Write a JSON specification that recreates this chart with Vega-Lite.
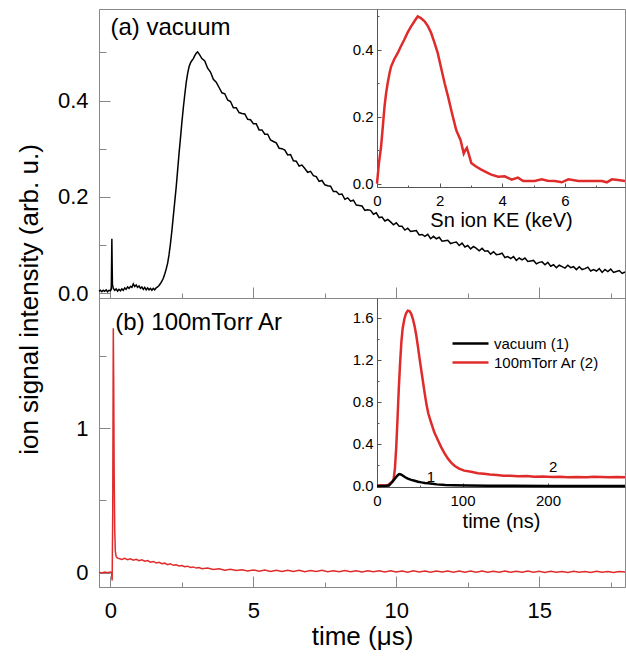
{
  "$schema": "https://vega.github.io/schema/vega-lite/v6.json",
  "padding": {"left": 15, "top": 8, "right": 2, "bottom": 2},
  "config": {
    "view": {"stroke": "#888", "strokeWidth": 1},
    "font": "Liberation Sans",
    "axis": {"grid": false, "domainColor": "#888", "tickColor": "#888", "labelColor": "#000", "titleColor": "#000", "labelFont": "Liberation Sans", "titleFont": "Liberation Sans", "titleFontWeight": "normal", "labelOverlap": false, "labelFlush": false}
  },
  "datasets": {
    "vac": [
      {"t":-0.4,"v":0.004},{"t":-0.35,"v":0.006},{"t":-0.3,"v":0.003},{"t":-0.25,"v":0.006},{"t":-0.2,"v":0.004},{"t":-0.15,"v":0.007},{"t":-0.1,"v":0.003},{"t":-0.05,"v":0.006},{"t":0.0,"v":0.005},{"t":0.03,"v":0.008},{"t":0.05,"v":0.113},{"t":0.06,"v":0.06},{"t":0.07,"v":0.018},{"t":0.1,"v":0.01},{"t":0.15,"v":0.006},{"t":0.2,"v":0.009},{"t":0.25,"v":0.004},{"t":0.3,"v":0.008},{"t":0.35,"v":0.005},{"t":0.4,"v":0.009},{"t":0.45,"v":0.006},{"t":0.5,"v":0.011},{"t":0.55,"v":0.008},{"t":0.6,"v":0.013},{"t":0.65,"v":0.01},{"t":0.7,"v":0.014},{"t":0.75,"v":0.012},{"t":0.8,"v":0.019},{"t":0.85,"v":0.014},{"t":0.9,"v":0.017},{"t":0.95,"v":0.012},{"t":1.0,"v":0.015},{"t":1.05,"v":0.01},{"t":1.1,"v":0.013},{"t":1.15,"v":0.008},{"t":1.2,"v":0.012},{"t":1.25,"v":0.007},{"t":1.3,"v":0.011},{"t":1.35,"v":0.007},{"t":1.4,"v":0.01},{"t":1.45,"v":0.006},{"t":1.5,"v":0.01},{"t":1.55,"v":0.007},{"t":1.6,"v":0.011},{"t":1.65,"v":0.013},{"t":1.7,"v":0.016},{"t":1.75,"v":0.02},{"t":1.8,"v":0.025},{"t":1.85,"v":0.031},{"t":1.9,"v":0.04},{"t":1.95,"v":0.05},{"t":2.0,"v":0.062},{"t":2.05,"v":0.08},{"t":2.1,"v":0.103},{"t":2.15,"v":0.13},{"t":2.2,"v":0.16},{"t":2.25,"v":0.19},{"t":2.3,"v":0.22},{"t":2.35,"v":0.255},{"t":2.4,"v":0.29},{"t":2.45,"v":0.322},{"t":2.5,"v":0.355},{"t":2.55,"v":0.385},{"t":2.6,"v":0.412},{"t":2.65,"v":0.437},{"t":2.7,"v":0.456},{"t":2.75,"v":0.47},{"t":2.8,"v":0.478},{"t":2.85,"v":0.483},{"t":2.9,"v":0.487},{"t":2.95,"v":0.493},{"t":3.0,"v":0.498},{"t":3.05,"v":0.501},
      {"t":3.1,"v":0.497},{"t":3.2,"v":0.487},{"t":3.3,"v":0.482},{"t":3.4,"v":0.467},{"t":3.5,"v":0.459},{"t":3.6,"v":0.444},{"t":3.7,"v":0.438},{"t":3.8,"v":0.427},{"t":3.9,"v":0.416},{"t":4.0,"v":0.414},{"t":4.1,"v":0.401},{"t":4.2,"v":0.398},{"t":4.3,"v":0.385},{"t":4.4,"v":0.385},{"t":4.5,"v":0.375},{"t":4.6,"v":0.373},{"t":4.7,"v":0.372},{"t":4.8,"v":0.361},{"t":4.9,"v":0.36},{"t":5.0,"v":0.352},{"t":5.1,"v":0.352},{"t":5.2,"v":0.339},{"t":5.3,"v":0.339},{"t":5.4,"v":0.33},{"t":5.5,"v":0.33},{"t":5.6,"v":0.318},{"t":5.7,"v":0.315},{"t":5.8,"v":0.312},{"t":5.9,"v":0.301},{"t":6.0,"v":0.3},{"t":6.1,"v":0.297},{"t":6.2,"v":0.287},{"t":6.3,"v":0.288},{"t":6.4,"v":0.275},{"t":6.5,"v":0.274},{"t":6.6,"v":0.264},{"t":6.7,"v":0.266},{"t":6.8,"v":0.259},{"t":6.9,"v":0.251},{"t":7.0,"v":0.253},{"t":7.1,"v":0.244},{"t":7.2,"v":0.242},{"t":7.3,"v":0.232},{"t":7.4,"v":0.234},{"t":7.5,"v":0.225},{"t":7.6,"v":0.223},{"t":7.7,"v":0.222},{"t":7.8,"v":0.211},{"t":7.9,"v":0.211},{"t":8.0,"v":0.205},{"t":8.1,"v":0.206},{"t":8.2,"v":0.195},{"t":8.3,"v":0.198},{"t":8.4,"v":0.191},{"t":8.5,"v":0.193},{"t":8.6,"v":0.183},{"t":8.7,"v":0.182},{"t":8.8,"v":0.181},{"t":8.9,"v":0.172},{"t":9.0,"v":0.173},{"t":9.1,"v":0.172},{"t":9.2,"v":0.164},{"t":9.3,"v":0.167},{"t":9.4,"v":0.157},{"t":9.5,"v":0.158},{"t":9.6,"v":0.15},{"t":9.7,"v":0.153},{"t":9.8,"v":0.148},{"t":9.9,"v":0.142},{"t":10.0,"v":0.146},{"t":10.1,"v":0.139},{"t":10.2,"v":0.139},{"t":10.3,"v":0.131},{"t":10.4,"v":0.135},{"t":10.5,"v":0.128},{"t":10.6,"v":0.129},{"t":10.7,"v":0.13},{"t":10.8,"v":0.121},{"t":10.9,"v":0.122},{"t":11.0,"v":0.118},{"t":11.1,"v":0.122},{"t":11.2,"v":0.113},{"t":11.3,"v":0.118},{"t":11.4,"v":0.113},{"t":11.5,"v":0.116},{"t":11.6,"v":0.108},{"t":11.7,"v":0.109},{"t":11.8,"v":0.11},{"t":11.9,"v":0.103},{"t":12.0,"v":0.105},{"t":12.1,"v":0.106},{"t":12.2,"v":0.099},{"t":12.3,"v":0.104},{"t":12.4,"v":0.096},{"t":12.5,"v":0.099},{"t":12.6,"v":0.092},{"t":12.7,"v":0.097},{"t":12.8,"v":0.093},{"t":12.9,"v":0.088},{"t":13.0,"v":0.093},{"t":13.1,"v":0.087},{"t":13.2,"v":0.088},{"t":13.3,"v":0.081},{"t":13.4,"v":0.086},{"t":13.5,"v":0.08},{"t":13.6,"v":0.081},{"t":13.7,"v":0.083},{"t":13.8,"v":0.074},{"t":13.9,"v":0.076},{"t":14.0,"v":0.072},{"t":14.1,"v":0.076},{"t":14.2,"v":0.068},{"t":14.3,"v":0.073},{"t":14.4,"v":0.069},{"t":14.5,"v":0.073},{"t":14.6,"v":0.066},{"t":14.7,"v":0.067},{"t":14.8,"v":0.068},{"t":14.9,"v":0.061},{"t":15.0,"v":0.064},{"t":15.1,"v":0.065},{"t":15.2,"v":0.059},{"t":15.3,"v":0.064},{"t":15.4,"v":0.056},{"t":15.5,"v":0.059},{"t":15.6,"v":0.053},{"t":15.7,"v":0.058},{"t":15.8,"v":0.055},{"t":15.9,"v":0.052},{"t":16.0,"v":0.058},{"t":16.1,"v":0.053},{"t":16.2,"v":0.055},{"t":16.3,"v":0.049},{"t":16.4,"v":0.055},{"t":16.5,"v":0.049},{"t":16.6,"v":0.051},{"t":16.7,"v":0.054},{"t":16.8,"v":0.046},{"t":16.9,"v":0.049},{"t":17.0,"v":0.046},{"t":17.1,"v":0.051},{"t":17.2,"v":0.043},{"t":17.3,"v":0.049},{"t":17.4,"v":0.045},{"t":17.5,"v":0.05},{"t":17.6,"v":0.043},{"t":17.7,"v":0.045},{"t":17.8,"v":0.047},{"t":17.9,"v":0.041},{"t":18.0,"v":0.044}
    ],
    "ar": [
      {"t":-0.4,"v":0.003},{"t":-0.3,"v":-0.003},{"t":-0.2,"v":0.004},{"t":-0.1,"v":-0.002},{"t":0.0,"v":0.003},{"t":0.04,"v":0.0},{"t":0.06,"v":-0.055},{"t":0.08,"v":0.4},{"t":0.1,"v":1.69},{"t":0.115,"v":1.3},{"t":0.13,"v":0.7},{"t":0.15,"v":0.3},{"t":0.17,"v":0.15},{"t":0.2,"v":0.11},{"t":0.25,"v":0.1},{"t":0.3,"v":0.097},{"t":0.4,"v":0.09},{"t":0.5,"v":0.098},{"t":0.6,"v":0.089},{"t":0.7,"v":0.095},{"t":0.8,"v":0.086},{"t":0.9,"v":0.092},{"t":1.0,"v":0.082},{"t":1.1,"v":0.088},{"t":1.2,"v":0.078},{"t":1.3,"v":0.083},{"t":1.4,"v":0.072},{"t":1.5,"v":0.077},{"t":1.6,"v":0.067},{"t":1.7,"v":0.071},{"t":1.8,"v":0.061},{"t":1.9,"v":0.065},{"t":2.0,"v":0.055},{"t":2.1,"v":0.06},{"t":2.2,"v":0.05},{"t":2.3,"v":0.054},{"t":2.4,"v":0.045},{"t":2.5,"v":0.049},{"t":2.6,"v":0.04},{"t":2.7,"v":0.044},{"t":2.8,"v":0.035},{"t":2.9,"v":0.039},{"t":3.0,"v":0.031},{"t":3.1,"v":0.035},{"t":3.2,"v":0.026},{"t":3.4,"v":0.031},{"t":3.6,"v":0.021},{"t":3.8,"v":0.026},{"t":4.0,"v":0.016},{"t":4.2,"v":0.022},{"t":4.4,"v":0.014},{"t":4.6,"v":0.02},{"t":4.8,"v":0.011},{"t":5.0,"v":0.018},{"t":5.2,"v":0.009},{"t":5.4,"v":0.017},{"t":5.6,"v":0.008},{"t":5.8,"v":0.016},{"t":6.0,"v":0.007},{"t":6.2,"v":0.015},{"t":6.4,"v":0.008},{"t":6.6,"v":0.016},{"t":6.8,"v":0.006},{"t":7.0,"v":0.014},{"t":7.2,"v":0.007},{"t":7.4,"v":0.015},{"t":7.6,"v":0.006},{"t":7.8,"v":0.013},{"t":8.0,"v":0.005},{"t":8.2,"v":0.014},{"t":8.4,"v":0.006},{"t":8.6,"v":0.013},{"t":8.8,"v":0.004},{"t":9.0,"v":0.012},{"t":9.2,"v":0.005},{"t":9.4,"v":0.013},{"t":9.6,"v":0.004},{"t":9.8,"v":0.012},{"t":10.0,"v":0.004},{"t":10.2,"v":0.011},{"t":10.4,"v":0.003},{"t":10.6,"v":0.012},{"t":10.8,"v":0.004},{"t":11.0,"v":0.011},{"t":11.2,"v":0.003},{"t":11.4,"v":0.01},{"t":11.6,"v":0.004},{"t":11.8,"v":0.011},{"t":12.0,"v":0.003},{"t":12.2,"v":0.01},{"t":12.4,"v":0.002},{"t":12.6,"v":0.01},{"t":12.8,"v":0.003},{"t":13.0,"v":0.011},{"t":13.2,"v":0.002},{"t":13.4,"v":0.009},{"t":13.6,"v":0.003},{"t":13.8,"v":0.01},{"t":14.0,"v":0.002},{"t":14.2,"v":0.009},{"t":14.4,"v":0.003},{"t":14.6,"v":0.01},{"t":14.8,"v":0.002},{"t":15.0,"v":0.009},{"t":15.2,"v":0.001},{"t":15.4,"v":0.009},{"t":15.6,"v":0.002},{"t":15.8,"v":0.008},{"t":16.0,"v":0.001},{"t":16.2,"v":0.009},{"t":16.4,"v":0.002},{"t":16.6,"v":0.008},{"t":16.8,"v":0.001},{"t":17.0,"v":0.009},{"t":17.2,"v":0.002},{"t":17.4,"v":0.008},{"t":17.6,"v":0.001},{"t":17.8,"v":0.008},{"t":18.0,"v":0.003}
    ],
    "ke": [
      {"e":0.0,"v":0.0},{"e":0.06,"v":0.06},{"e":0.13,"v":0.11},{"e":0.19,"v":0.175},{"e":0.24,"v":0.23},{"e":0.29,"v":0.27},{"e":0.34,"v":0.3},{"e":0.4,"v":0.33},{"e":0.45,"v":0.35},{"e":0.55,"v":0.372},{"e":0.66,"v":0.39},{"e":0.76,"v":0.41},{"e":0.87,"v":0.43},{"e":0.98,"v":0.452},{"e":1.09,"v":0.47},{"e":1.2,"v":0.486},{"e":1.3,"v":0.5},{"e":1.4,"v":0.495},{"e":1.52,"v":0.485},{"e":1.63,"v":0.47},{"e":1.73,"v":0.45},{"e":1.84,"v":0.42},{"e":1.94,"v":0.39},{"e":2.05,"v":0.345},{"e":2.16,"v":0.3},{"e":2.27,"v":0.26},{"e":2.37,"v":0.22},{"e":2.45,"v":0.19},{"e":2.53,"v":0.16},{"e":2.6,"v":0.145},{"e":2.67,"v":0.13},{"e":2.72,"v":0.11},{"e":2.77,"v":0.09},{"e":2.82,"v":0.1},{"e":2.87,"v":0.107},{"e":2.94,"v":0.085},{"e":3.01,"v":0.062},{"e":3.15,"v":0.052},{"e":3.33,"v":0.042},{"e":3.5,"v":0.034},{"e":3.65,"v":0.027},{"e":3.87,"v":0.021},{"e":4.08,"v":0.022},{"e":4.3,"v":0.012},{"e":4.5,"v":0.018},{"e":4.67,"v":0.008},{"e":5.04,"v":0.008},{"e":5.26,"v":0.013},{"e":5.45,"v":0.009},{"e":5.68,"v":0.008},{"e":5.9,"v":0.004},{"e":6.11,"v":0.013},{"e":6.43,"v":0.008},{"e":6.8,"v":0.008},{"e":7.18,"v":0.008},{"e":7.34,"v":0.004},{"e":7.5,"v":0.013},{"e":7.7,"v":0.011},{"e":7.92,"v":0.008}
    ],
    "ins": [
      {"ns":0,"v":0.003,"s":"100mTorr Ar (2)"},{"ns":5,"v":0.006,"s":"100mTorr Ar (2)"},{"ns":10,"v":0.004,"s":"100mTorr Ar (2)"},{"ns":13,"v":0.009,"s":"100mTorr Ar (2)"},{"ns":16,"v":0.03,"s":"100mTorr Ar (2)"},{"ns":18,"v":0.04,"s":"100mTorr Ar (2)"},{"ns":19.5,"v":0.067,"s":"100mTorr Ar (2)"},{"ns":21,"v":0.17,"s":"100mTorr Ar (2)"},{"ns":22.5,"v":0.37,"s":"100mTorr Ar (2)"},{"ns":24,"v":0.64,"s":"100mTorr Ar (2)"},{"ns":25.5,"v":0.93,"s":"100mTorr Ar (2)"},{"ns":27,"v":1.17,"s":"100mTorr Ar (2)"},{"ns":28.5,"v":1.37,"s":"100mTorr Ar (2)"},{"ns":30,"v":1.5,"s":"100mTorr Ar (2)"},{"ns":32,"v":1.59,"s":"100mTorr Ar (2)"},{"ns":34,"v":1.645,"s":"100mTorr Ar (2)"},{"ns":36,"v":1.67,"s":"100mTorr Ar (2)"},{"ns":38,"v":1.665,"s":"100mTorr Ar (2)"},{"ns":40,"v":1.64,"s":"100mTorr Ar (2)"},{"ns":42,"v":1.59,"s":"100mTorr Ar (2)"},{"ns":44,"v":1.52,"s":"100mTorr Ar (2)"},{"ns":46,"v":1.43,"s":"100mTorr Ar (2)"},{"ns":48,"v":1.32,"s":"100mTorr Ar (2)"},{"ns":50,"v":1.2,"s":"100mTorr Ar (2)"},{"ns":52,"v":1.09,"s":"100mTorr Ar (2)"},{"ns":54,"v":0.98,"s":"100mTorr Ar (2)"},{"ns":56,"v":0.87,"s":"100mTorr Ar (2)"},{"ns":58,"v":0.77,"s":"100mTorr Ar (2)"},{"ns":60,"v":0.69,"s":"100mTorr Ar (2)"},{"ns":63,"v":0.61,"s":"100mTorr Ar (2)"},{"ns":67,"v":0.51,"s":"100mTorr Ar (2)"},{"ns":71,"v":0.44,"s":"100mTorr Ar (2)"},{"ns":75,"v":0.37,"s":"100mTorr Ar (2)"},{"ns":79,"v":0.31,"s":"100mTorr Ar (2)"},{"ns":83,"v":0.26,"s":"100mTorr Ar (2)"},{"ns":87,"v":0.22,"s":"100mTorr Ar (2)"},{"ns":91,"v":0.19,"s":"100mTorr Ar (2)"},{"ns":96,"v":0.165,"s":"100mTorr Ar (2)"},{"ns":102,"v":0.146,"s":"100mTorr Ar (2)"},{"ns":110,"v":0.135,"s":"100mTorr Ar (2)"},{"ns":118,"v":0.122,"s":"100mTorr Ar (2)"},{"ns":125,"v":0.116,"s":"100mTorr Ar (2)"},{"ns":132,"v":0.108,"s":"100mTorr Ar (2)"},{"ns":140,"v":0.104,"s":"100mTorr Ar (2)"},{"ns":148,"v":0.097,"s":"100mTorr Ar (2)"},{"ns":156,"v":0.098,"s":"100mTorr Ar (2)"},{"ns":165,"v":0.092,"s":"100mTorr Ar (2)"},{"ns":175,"v":0.094,"s":"100mTorr Ar (2)"},{"ns":184,"v":0.088,"s":"100mTorr Ar (2)"},{"ns":194,"v":0.09,"s":"100mTorr Ar (2)"},{"ns":205,"v":0.085,"s":"100mTorr Ar (2)"},{"ns":214,"v":0.087,"s":"100mTorr Ar (2)"},{"ns":223,"v":0.082,"s":"100mTorr Ar (2)"},{"ns":234,"v":0.086,"s":"100mTorr Ar (2)"},{"ns":245,"v":0.084,"s":"100mTorr Ar (2)"},{"ns":254,"v":0.088,"s":"100mTorr Ar (2)"},{"ns":262,"v":0.086,"s":"100mTorr Ar (2)"},{"ns":271,"v":0.083,"s":"100mTorr Ar (2)"},{"ns":280,"v":0.086,"s":"100mTorr Ar (2)"},{"ns":290,"v":0.083,"s":"100mTorr Ar (2)"},
      {"ns":0,"v":0.0,"s":"vacuum (1)"},{"ns":10,"v":0.002,"s":"vacuum (1)"},{"ns":14,"v":0.004,"s":"vacuum (1)"},{"ns":17,"v":0.03,"s":"vacuum (1)"},{"ns":20,"v":0.06,"s":"vacuum (1)"},{"ns":22,"v":0.08,"s":"vacuum (1)"},{"ns":24,"v":0.1,"s":"vacuum (1)"},{"ns":26,"v":0.113,"s":"vacuum (1)"},{"ns":28,"v":0.11,"s":"vacuum (1)"},{"ns":30,"v":0.1,"s":"vacuum (1)"},{"ns":33,"v":0.083,"s":"vacuum (1)"},{"ns":36,"v":0.069,"s":"vacuum (1)"},{"ns":40,"v":0.058,"s":"vacuum (1)"},{"ns":44,"v":0.049,"s":"vacuum (1)"},{"ns":48,"v":0.04,"s":"vacuum (1)"},{"ns":52,"v":0.034,"s":"vacuum (1)"},{"ns":56,"v":0.029,"s":"vacuum (1)"},{"ns":60,"v":0.025,"s":"vacuum (1)"},{"ns":65,"v":0.02,"s":"vacuum (1)"},{"ns":70,"v":0.015,"s":"vacuum (1)"},{"ns":80,"v":0.01,"s":"vacuum (1)"},{"ns":90,"v":0.007,"s":"vacuum (1)"},{"ns":106,"v":0.004,"s":"vacuum (1)"},{"ns":130,"v":0.002,"s":"vacuum (1)"},{"ns":160,"v":0.001,"s":"vacuum (1)"},{"ns":200,"v":0.0,"s":"vacuum (1)"},{"ns":250,"v":0.0,"s":"vacuum (1)"},{"ns":290,"v":0.0,"s":"vacuum (1)"}
    ],
    "labA": [{"t":0.0,"v":0.55,"txt":"(a) vacuum"}],
    "labB": [{"t":0.17,"v":1.73,"txt":"(b) 100mTorr Ar"}],
    "labIns": [{"ns":63,"v":0.086,"txt":"1"},{"ns":206,"v":0.18,"txt":"2"}]
  },
  "vconcat": [
    {
      "width": 526, "height": 289,
      "layer": [
        {"layer": [
          {"data": {"name": "vac"}, "mark": {"type": "line", "color": "#000", "strokeWidth": 1.5},
           "encoding": {
             "x": {"field": "t", "type": "quantitative", "scale": {"domain": [-0.4, 18], "nice": false, "zero": false},
                   "axis": {"orient": "bottom", "values": [0, 2.5, 5, 7.5, 10, 12.5, 15, 17.5], "labels": false, "title": null,
                            "tickSize": {"condition": {"test": "datum.value % 5 != 0", "value": -5}, "value": -11}}},
             "y": {"field": "v", "type": "quantitative", "scale": {"domain": [-0.01, 0.59], "nice": false, "zero": false},
                   "axis": {"orient": "left", "values": [0, 0.1, 0.2, 0.3, 0.4, 0.5],
                            "labelExpr": "indexof([0, 0.2, 0.4], datum.value) >= 0 ? format(datum.value, '.1f') : ''",
                            "tickSize": {"condition": {"test": "indexof([0.1, 0.3, 0.5], datum.value) >= 0", "value": -7}, "value": -11},
                            "labelFontSize": 22, "labelPadding": 22,
                            "title": "ion signal intensity (arb. u.)", "titleFontSize": 26, "titleX": -70, "titleY": 290, "titleBaseline": "middle", "titleAlign": "center"}}
           }},
          {"data": {"name": "labA"}, "mark": {"type": "text", "align": "left", "baseline": "middle", "fontSize": 24, "font": "Liberation Sans"},
           "encoding": {"x": {"field": "t", "type": "quantitative", "axis": null}, "y": {"field": "v", "type": "quantitative", "axis": null}, "text": {"field": "txt"}}}
        ],
         "resolve": {"axis": {"x": "independent", "y": "independent"}}},
        {"data": {"name": "ke"}, "mark": {"type": "line", "color": "#e02b2b", "strokeWidth": 2.5},
         "encoding": {
           "x": {"field": "e", "type": "quantitative", "scale": {"domain": [0, 7.92], "range": [278, 526], "nice": false, "zero": false},
                 "axis": {"orient": "bottom", "offset": -111, "values": [0, 1, 2, 3, 4, 5, 6, 7],
                          "labelExpr": "datum.value % 2 == 0 ? format(datum.value, 'd') : ''",
                          "tickSize": {"condition": {"test": "datum.value % 2 != 0", "value": -2}, "value": -4},
                          "labelFontSize": 15, "labelPadding": 10, "domainColor": "#555", "tickColor": "#555",
                          "title": "Sn ion KE (keV)", "titleFontSize": 20, "titlePadding": 0}},
           "y": {"field": "v", "type": "quantitative", "scale": {"domain": [-0.01, 0.522], "range": [178, 0], "nice": false, "zero": false},
                 "axis": {"orient": "left", "offset": -278, "values": [0, 0.1, 0.2, 0.3, 0.4, 0.5],
                          "labelExpr": "indexof([0, 0.2, 0.4], datum.value) >= 0 ? format(datum.value, '.1f') : ''",
                          "tickSize": {"condition": {"test": "indexof([0.1, 0.3, 0.5], datum.value) >= 0", "value": -2}, "value": -4},
                          "labelFontSize": 15, "labelPadding": 8, "domainColor": "#555", "tickColor": "#555", "title": null}}
         }}
      ],
      "resolve": {"scale": {"x": "independent", "y": "independent"}, "axis": {"x": "independent", "y": "independent"}}
    },
    {
      "width": 526, "height": 289,
      "layer": [
        {"layer": [
          {"data": {"name": "ar"}, "mark": {"type": "line", "color": "#e02b2b", "strokeWidth": 1.5},
           "encoding": {
             "x": {"field": "t", "type": "quantitative", "scale": {"domain": [-0.4, 18], "nice": false, "zero": false},
                   "axis": {"orient": "bottom", "values": [0, 2.5, 5, 7.5, 10, 12.5, 15, 17.5],
                            "labelExpr": "datum.value % 5 == 0 ? format(datum.value, 'd') : ''",
                            "tickSize": {"condition": {"test": "datum.value % 5 != 0", "value": -5}, "value": -11},
                            "labelFontSize": 22, "labelPadding": 24,
                            "title": "time (μs)", "titleFontSize": 26, "titlePadding": -4}},
             "y": {"field": "v", "type": "quantitative", "scale": {"domain": [-0.1, 1.9], "nice": false, "zero": false},
                   "axis": {"orient": "left", "values": [0, 0.5, 1, 1.5],
                            "labelExpr": "datum.value % 1 == 0 ? format(datum.value, 'd') : ''",
                            "tickSize": {"condition": {"test": "datum.value % 1 != 0", "value": -7}, "value": -11},
                            "labelFontSize": 22, "labelPadding": 22, "title": null}}
           }},
          {"data": {"name": "labB"}, "mark": {"type": "text", "align": "left", "baseline": "middle", "fontSize": 24, "font": "Liberation Sans"},
           "encoding": {"x": {"field": "t", "type": "quantitative", "axis": null}, "y": {"field": "v", "type": "quantitative", "axis": null}, "text": {"field": "txt"}}}
        ],
         "resolve": {"axis": {"x": "independent", "y": "independent"}}},
        {"layer": [
          {"data": {"name": "ins"}, "mark": {"type": "line", "strokeWidth": 2.5},
           "encoding": {
             "x": {"field": "ns", "type": "quantitative", "scale": {"domain": [0, 290], "range": [278, 526], "nice": false, "zero": false},
                   "axis": {"orient": "bottom", "offset": -100, "values": [0, 50, 100, 150, 200, 250],
                            "labelExpr": "datum.value % 100 == 0 ? format(datum.value, 'd') : ''",
                            "tickSize": {"condition": {"test": "datum.value % 100 != 0", "value": -2}, "value": -4},
                            "labelFontSize": 15, "labelPadding": 10, "domainColor": "#555", "tickColor": "#555",
                            "title": "time (ns)", "titleFontSize": 20, "titlePadding": 1}},
             "y": {"field": "v", "type": "quantitative", "scale": {"domain": [-0.01, 1.79], "range": [189, 0], "nice": false, "zero": false},
                   "axis": {"orient": "left", "offset": -278, "values": [0, 0.2, 0.4, 0.6, 0.8, 1.0, 1.2, 1.4, 1.6],
                            "labelExpr": "indexof([0, 0.4, 0.8, 1.2, 1.6], datum.value) >= 0 ? format(datum.value, '.1f') : ''",
                            "tickSize": {"condition": {"test": "indexof([0, 0.4, 0.8, 1.2, 1.6], datum.value) < 0", "value": -2}, "value": -4},
                            "labelFontSize": 15, "labelPadding": 8, "domainColor": "#555", "tickColor": "#555", "title": null}},
             "color": {"field": "s", "type": "nominal", "scale": {"domain": ["vacuum (1)", "100mTorr Ar (2)"], "range": ["#000000", "#e02b2b"]},
                       "legend": {"orient": "none", "legendX": 361, "legendY": 35, "title": null, "symbolType": "M-2,0H2", "symbolSize": 324, "symbolStrokeWidth": 2.5, "labelFontSize": 15, "labelFont": "Liberation Sans", "labelOffset": 13, "rowPadding": 0, "padding": 0}}
           }},
          {"data": {"name": "labIns"}, "mark": {"type": "text", "align": "center", "baseline": "middle", "fontSize": 15, "font": "Liberation Sans", "color": "#000"},
           "encoding": {"x": {"field": "ns", "type": "quantitative", "axis": null}, "y": {"field": "v", "type": "quantitative", "axis": null}, "text": {"field": "txt"}}}
        ],
         "resolve": {"axis": {"x": "independent", "y": "independent"}}}
      ],
      "resolve": {"scale": {"x": "independent", "y": "independent"}, "axis": {"x": "independent", "y": "independent"}}
    }
  ],
  "spacing": 0,
  "bounds": "flush",
  "resolve": {"scale": {"color": "independent"}, "legend": {"color": "independent"}}
}
